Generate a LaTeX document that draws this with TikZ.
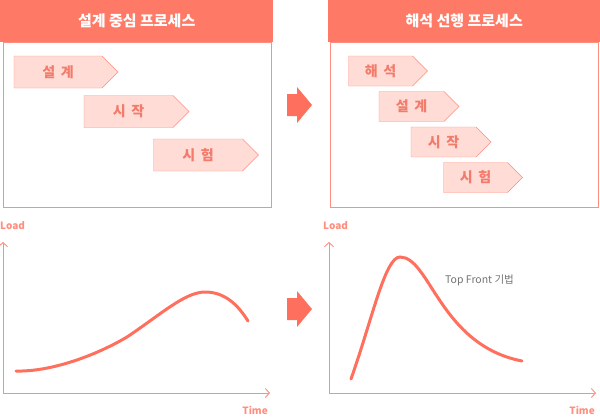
\documentclass[tikz,border=0pt]{standalone}
\usepackage{fontspec}
\setmainfont{Noto Sans CJK KR}
\usetikzlibrary{arrows.meta,shapes.symbols}

\definecolor{salmon}{HTML}{FF7A66}
\definecolor{lineSal}{HTML}{FF8E7E}
\definecolor{chevFill}{HTML}{FFDCD6}
\definecolor{chevText}{HTML}{F27B6B}
\definecolor{curveSal}{HTML}{FF6F5E}

\tikzset{
  header/.style={fill=salmon, text=white, font=\bfseries\fontsize{15}{15}\selectfont,
    inner sep=0, anchor=north west},
  panel/.style={draw=lineSal, line width=1pt},
  chev/.style={shape=signal, signal to=east, signal pointer angle=90,
    draw=lineSal, fill=chevFill, text=chevText, inner sep=0,
    font=\bfseries\fontsize{14}{14}\selectfont},
  axis/.style={draw=lineSal, line width=0.9pt, ->},
  curve/.style={draw=curveSal, line width=3pt, line cap=round},
  axlabel/.style={text=lineSal, font=\bfseries\fontsize{10}{10}\selectfont, inner sep=0}
}

\begin{document}
\begin{tikzpicture}[x=1pt, y=-1pt, >={Straight Barb[length=4pt, width=9pt]}]
\useasboundingbox (0,0) rectangle (600,418);

% left panel
\node[header, minimum width=273pt, minimum height=42pt] (hl) at (0,0) {설계 중심 프로세스};
\draw[panel] (3,42) rectangle (271,207);
\node[chev, minimum width=104pt, minimum height=32pt] (l1) at (58,72) {설 \,계};
\node[chev, minimum width=105pt, minimum height=32pt] (l2) at (128.5,111.5) {시 \,작};
\node[chev, minimum width=105pt, minimum height=32pt] (l3) at (198,155) {시 \,험};

% right panel
\node[header, minimum width=272pt, minimum height=42pt] (hr) at (328,0) {해석 선행 프로세스};
\draw[panel] (330,42) rectangle (598,207);
\node[chev, minimum width=79pt, minimum height=30pt] (r1) at (380.5,71) {해 \,석};
\node[chev, minimum width=80pt, minimum height=30pt] (r2) at (411.5,106.5) {설 \,계};
\node[chev, minimum width=80pt, minimum height=30pt] (r3) at (443.5,142) {시 \,작};
\node[chev, minimum width=79pt, minimum height=30pt] (r4) at (475.5,177.5) {시 \,험};

% arrows between
\foreach \c in {105,309}
  \fill[curveSal] (287,\c-11) -- (297,\c-11) -- (297,\c-18) -- (312,\c)
    -- (297,\c+18) -- (297,\c+11) -- (287,\c+11) -- cycle;

% left graph
\coordinate (o1) at (3,393);
\coordinate (y1) at (3,242);
\coordinate (x1) at (270,393);
\draw[axis] (o1) -- (y1);
\draw[axis] (o1) -- (x1);
\node[axlabel, anchor=west] (ld1) at (0,226) {Load};
\node[axlabel, anchor=east] (tm1) at (268,410) {Time};
\draw[curve] (16,371) .. controls (50,372) and (95,356) .. (127,337)
  .. controls (160,315) and (185,292) .. (205,292)
  .. controls (225,292) and (238,305) .. (248,321);

% right graph
\coordinate (o2) at (329,393);
\coordinate (y2) at (329,242);
\coordinate (x2) at (596,393);
\draw[axis] (o2) -- (y2);
\draw[axis] (o2) -- (x2);
\node[axlabel, anchor=west] (ld2) at (323,226) {Load};
\node[axlabel, anchor=east] (tm2) at (595,410) {Time};
\draw[curve] (351,379) .. controls (372,320) and (385,257) .. (400,257)
  .. controls (430,257) and (440,345) .. (522,361);
\node[text=black!55, font=\fontsize{10.5}{10.5}\selectfont, anchor=west, inner sep=0] (tf) at (445,280) {Top Front 기법};
\end{tikzpicture}
\end{document}
